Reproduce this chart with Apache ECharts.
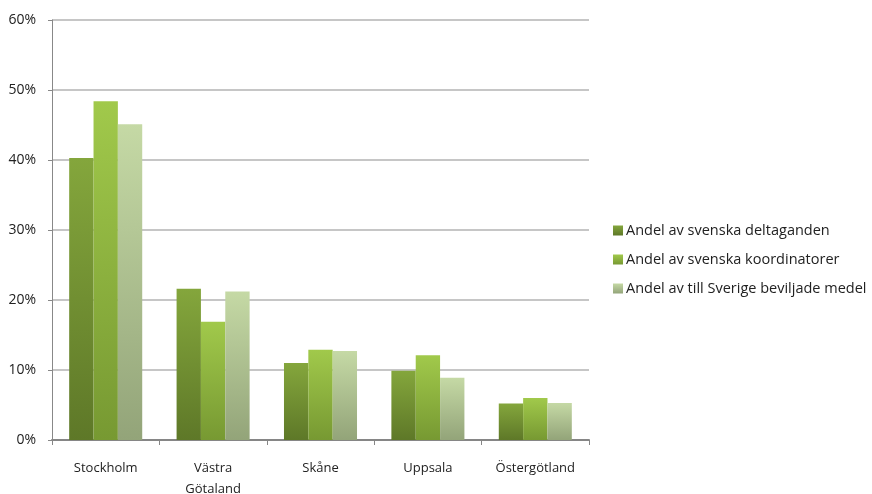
<!DOCTYPE html>
<html><head><meta charset="utf-8">
<script src="https://cdn.jsdelivr.net/npm/echarts@6/dist/echarts.min.js"></script>
<style>html,body{margin:0;padding:0;background:#fff}#c{width:872px;height:494px}</style>
</head><body><div id="c"></div>
<script>
const categories = ['Stockholm', 'Västra\nGötaland', 'Skåne', 'Uppsala', 'Östergötland'];
const seriesNames = ['Andel av svenska deltaganden', 'Andel av svenska koordinatorer', 'Andel av till Sverige beviljade medel'];
const deltaganden = [40.3, 21.6, 11.0, 9.9, 5.2];
const koordinatorer = [48.4, 16.9, 12.9, 12.1, 6.0];
const medel = [45.1, 21.2, 12.7, 8.9, 5.3];
const yTicks = [0, 10, 20, 30, 40, 50, 60];

const colorsTop = ['#84A63C', '#A1C94B', '#C5D9A5'];
const colorsBot = ['#5E7828', '#779932', '#93A479'];
const font = 'Open Sans';
const grad = i => new echarts.graphic.LinearGradient(0, 0, 0, 1, [
  {offset: 0, color: colorsTop[i]}, {offset: 1, color: colorsBot[i]}]);

const chart = echarts.init(document.getElementById('c'), null, {renderer: 'canvas'});
const data = [deltaganden, koordinatorer, medel];
chart.setOption({
  animation: false,
  textStyle: {fontFamily: font},
  grid: {left: 52, right: 283, top: 20, bottom: 54, containLabel: false, outerBoundsMode: 'none'},
  legend: {
    orient: 'vertical', left: 613, top: 223, itemWidth: 10, itemHeight: 10, itemGap: 14,
    padding: 0, icon: 'rect',
    textStyle: {fontFamily: font, fontSize: 14.5, color: '#222', padding: [0, 0, 0, -2]},
    data: seriesNames
  },
  xAxis: {
    type: 'category', data: categories,
    axisLine: {lineStyle: {color: '#868686', width: 2}},
    axisTick: {show: true, length: 5, lineStyle: {color: '#868686'}},
    axisLabel: {fontFamily: font, fontSize: 13, color: '#222', margin: 18, lineHeight: 21}
  },
  yAxis: {
    type: 'value', min: yTicks[0], max: yTicks[yTicks.length - 1], interval: 10,
    axisLine: {show: true, lineStyle: {color: '#888', width: 1}},
    axisTick: {show: true, length: 4, lineStyle: {color: '#888'}},
    splitLine: {lineStyle: {color: '#b3b3b3', width: 1.5}},
    axisLabel: {fontFamily: font, fontSize: 14, color: '#222', margin: 16, formatter: v => v + '%'}
  },
  series: seriesNames.map((n, i) => ({
    name: n, type: 'bar', data: data[i], barGap: '0%', barCategoryGap: '32%',
    itemStyle: {color: grad(i)}
  }))
});
</script></body></html>
